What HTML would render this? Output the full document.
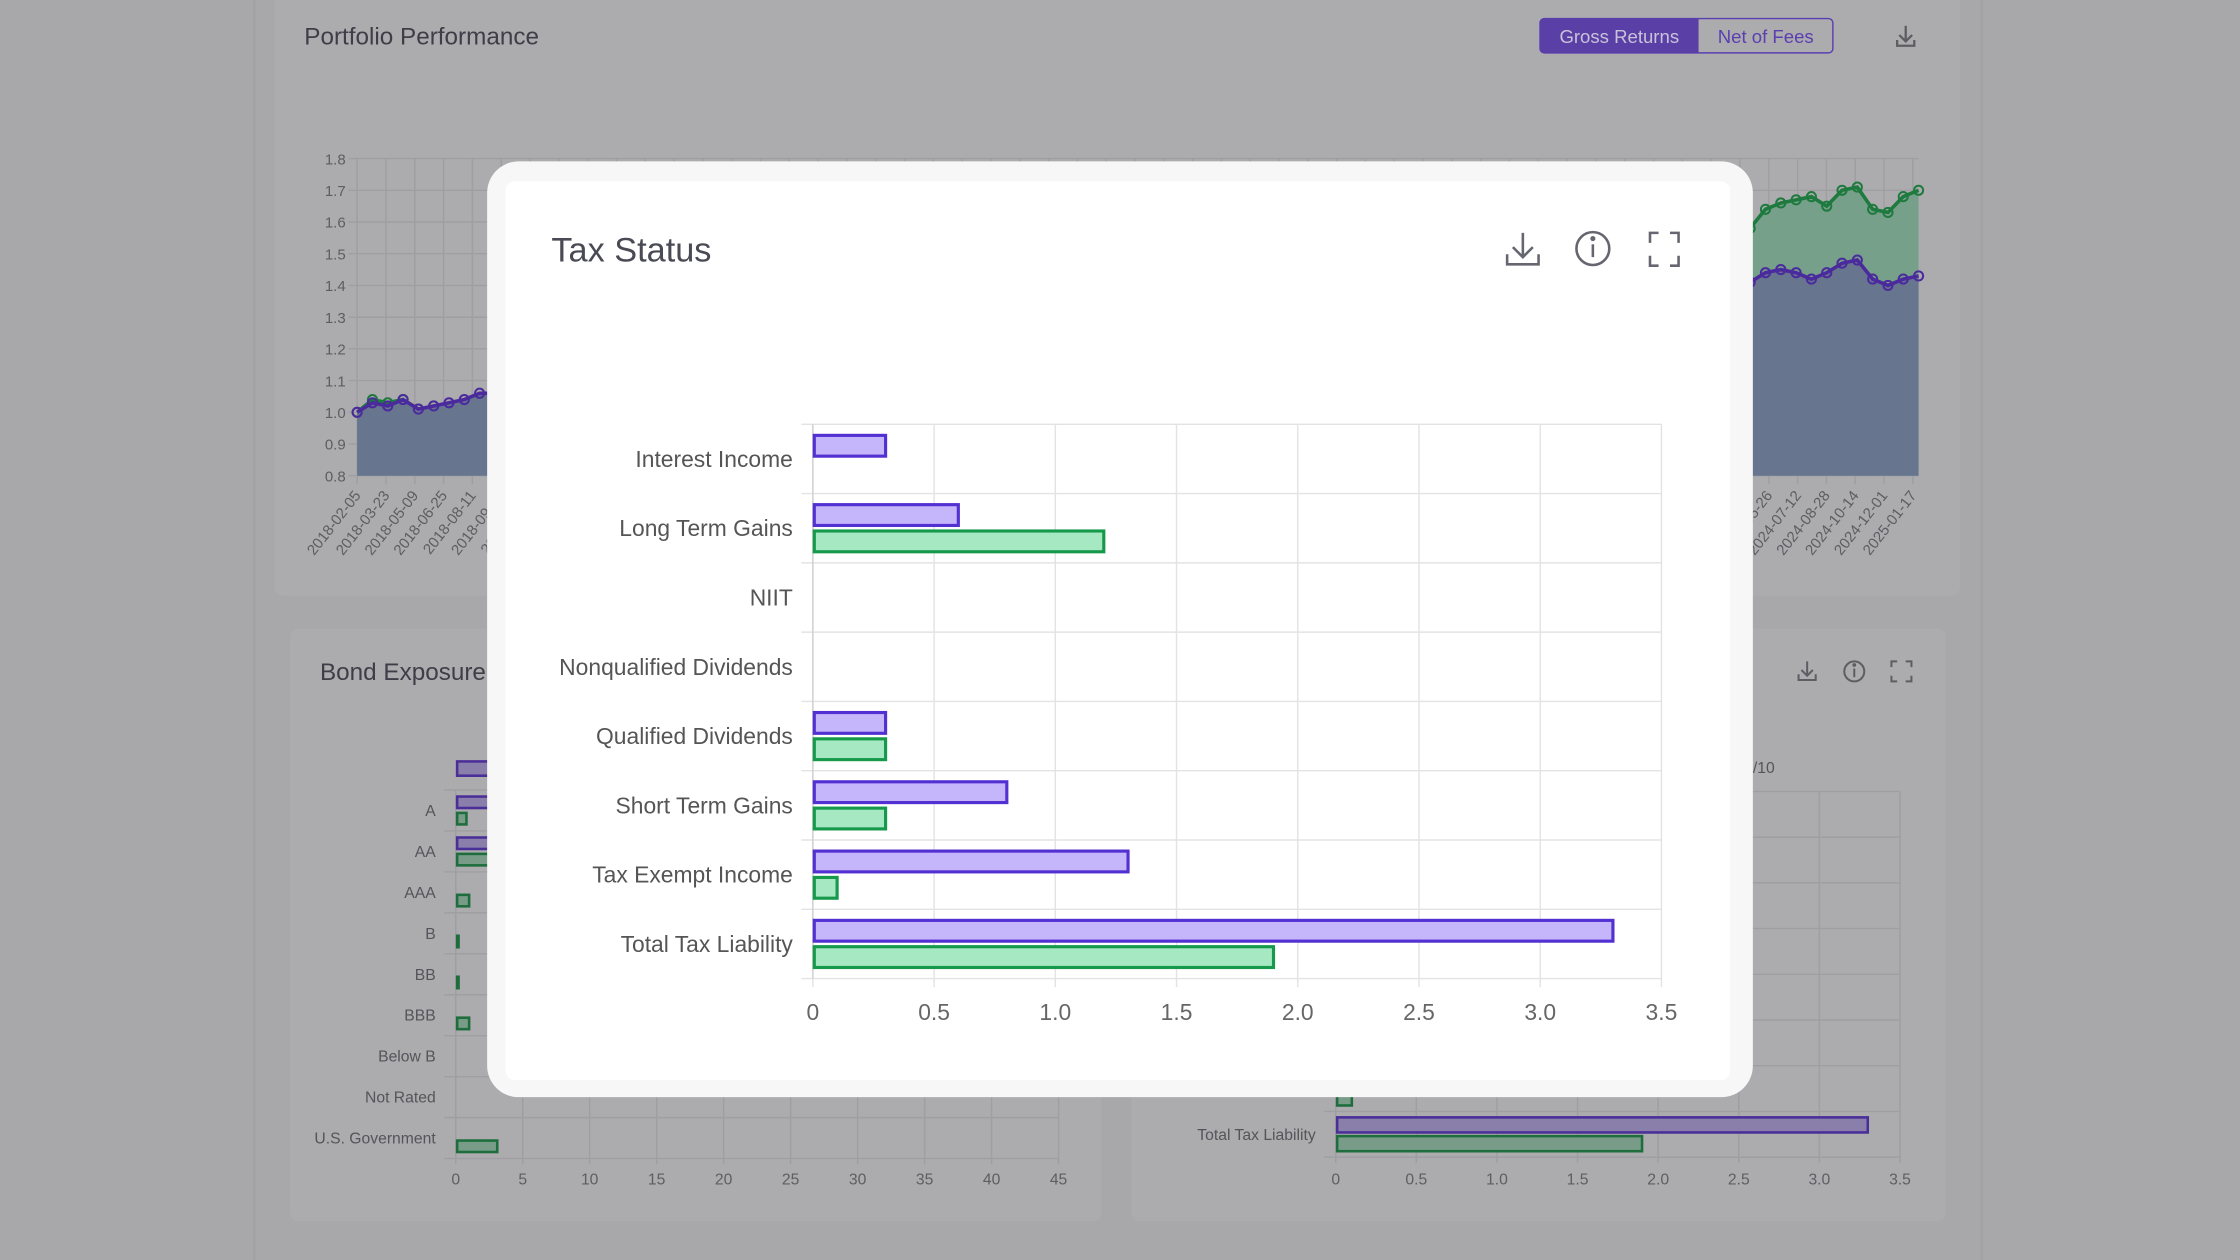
<!DOCTYPE html>
<html><head><meta charset="utf-8"><style>
html,body{margin:0;padding:0;width:2240px;height:1260px;overflow:hidden;background:#a8a7aa;}
svg{display:block;font-family:"Liberation Sans",sans-serif;}
</style></head><body>
<svg id="root" width="2240" height="1260" viewBox="0 0 1568 882" xmlns="http://www.w3.org/2000/svg">
<rect x="0" y="0" width="1568" height="882" fill="#a8a7aa"/>
<line x1="178" y1="0" x2="178" y2="882" stroke="#a3a2a5" stroke-width="2"/>
<line x1="1387" y1="0" x2="1387" y2="882" stroke="#a3a2a5" stroke-width="2"/>
<g>
<rect x="192" y="-10" width="1180" height="427" rx="6" fill="#acabae"/>
<text x="213" y="31" font-size="17" fill="#3f3e48">Portfolio Performance</text>
<rect x="1078" y="13" width="205" height="24" rx="3" fill="#acabae" stroke="#5a3fb0" stroke-width="1"/>
<path d="M1081,13 H1189 V37 H1081 a3,3 0 0 1 -3,-3 V16 a3,3 0 0 1 3,-3z" fill="#5a3fa6"/>
<text x="1133.5" y="30" font-size="13" fill="#c8c3d8" text-anchor="middle">Gross Returns</text>
<text x="1236" y="30" font-size="13" fill="#5a3fb0" text-anchor="middle">Net of Fees</text>
<g stroke="#5e5d63" stroke-width="1.6" fill="none"><path d="M1334,18 v11 M1329.5,24.5 l4.5,4.5 l4.5,-4.5 M1328,28 v4 h12 v-4"/></g>
<g id="perf"></g>
</g>
<g>
<rect x="203" y="440" width="568" height="415" rx="6" fill="#acabae"/>
<text x="224" y="476" font-size="17" fill="#3f3e48">Bond Exposure</text>
<g id="bond"></g>
</g>
<g>
<rect x="792" y="440" width="570" height="415" rx="6" fill="#acabae"/>
<text x="1227" y="541" font-size="11" fill="#55545a">/10</text>
<g stroke="#5e5d63" stroke-width="1.4" fill="none">
<path d="M1265,463 v10 M1261,469 l4,4 l4,-4 M1259,472 v4 h12 v-4"/>
<g><circle cx="1298" cy="470" r="7"/><path d="M1298,468 v6"/><circle cx="1298" cy="465.5" r="0.6"/></g>
<path d="M1324,467 v-4 h4 M1334,463 h4 v4 M1338,473 v4 h-4 M1328,477 h-4 v-4"/>
</g>
<g id="small"></g>
</g>
<g>
<rect x="341" y="113" width="886" height="655" rx="22" fill="#f7f7f7"/>
<rect x="354" y="127" width="857" height="629" rx="6" fill="#ffffff"/>
<text x="386" y="183" font-size="24" fill="#4a4a55">Tax Status</text>
<g stroke="#666670" stroke-width="1.8" fill="none">
<path d="M1066,163 v17 M1059,173 l7,7 l7,-7 M1055,178 v7 h22 v-7"/>
<g><circle cx="1115" cy="174" r="11.5"/><path d="M1115,171 v9"/><circle cx="1115" cy="167" r="0.9"/></g>
<path d="M1155,170 v-7 h6 M1169,163 h6 v7 M1175,179 v7 h-6 M1161,186 h-6 v-7"/>
</g>
<g id="main"></g>
</g>
</svg>
<script>
const taxCategories = ["Interest Income","Long Term Gains","NIIT","Nonqualified Dividends","Qualified Dividends","Short Term Gains","Tax Exempt Income","Total Tax Liability"];
const taxSeriesA = [0.3,0.6,0,0,0.3,0.8,1.3,3.3];
const taxSeriesB = [0,1.2,0,0,0.3,0.3,0.1,1.9];
const taxTicks = ["0","0.5","1.0","1.5","2.0","2.5","3.0","3.5"];
const taxTickValues = [0,0.5,1,1.5,2,2.5,3,3.5];
const bondCategories = ["A","AA","AAA","B","BB","BBB","Below B","Not Rated","U.S. Government"];
const bondSeriesA = [20,18,0,0,0,0,0,0,0];
const bondSeriesB = [0.8,12,1.0,0.1,0.2,1.0,0,0,3.1];
const bondTicks = [0,5,10,15,20,25,30,35,40,45];
const perfGross = [1.00,1.04,1.03,1.04,1.01,1.02,1.01,1.02,1.03,1.04,1.05,1.06,1.07,1.08,1.08,1.10,1.11,1.10,1.12,1.13,1.14,1.12,1.10,1.13,1.15,1.16,1.18,1.17,1.16,1.19,1.20,1.22,1.21,1.20,1.18,1.22,1.25,1.27,1.26,1.28,1.30,1.29,1.31,1.30,1.32,1.34,1.33,1.35,1.36,1.34,1.36,1.38,1.37,1.39,1.40,1.42,1.41,1.40,1.43,1.44,1.45,1.44,1.46,1.45,1.47,1.46,1.48,1.47,1.49,1.48,1.50,1.49,1.51,1.50,1.49,1.50,1.49,1.48,1.50,1.51,1.50,1.49,1.50,1.51,1.50,1.51,1.52,1.55,1.56,1.57,1.62,1.58,1.64,1.66,1.67,1.68,1.65,1.70,1.71,1.64,1.63,1.68,1.70];
const perfNet = [1.00,1.03,1.02,1.04,1.01,1.02,1.03,1.04,1.06,1.06,1.07,1.08,1.08,1.09,1.10,1.10,1.11,1.12,1.11,1.13,1.14,1.12,1.10,1.12,1.14,1.15,1.16,1.15,1.14,1.16,1.17,1.18,1.17,1.16,1.15,1.17,1.19,1.20,1.19,1.21,1.22,1.21,1.23,1.22,1.24,1.25,1.24,1.26,1.27,1.25,1.26,1.28,1.27,1.28,1.29,1.30,1.29,1.28,1.30,1.31,1.32,1.31,1.32,1.31,1.33,1.32,1.31,1.30,1.31,1.30,1.31,1.30,1.31,1.30,1.29,1.30,1.29,1.28,1.29,1.30,1.29,1.28,1.29,1.30,1.29,1.30,1.32,1.35,1.37,1.39,1.38,1.41,1.44,1.45,1.44,1.42,1.44,1.47,1.48,1.42,1.40,1.42,1.43];
const perfYTicks = ["0.8","0.9","1.0","1.1","1.2","1.3","1.4","1.5","1.6","1.7","1.8"];
const perfYValues = [0.8,0.9,1.0,1.1,1.2,1.3,1.4,1.5,1.6,1.7,1.8];
const perfDates = ["2018-02-05","2018-03-23","2018-05-09","2018-06-25","2018-08-11","2018-09-27","2018-11-13","2018-12-30","2019-02-15","2019-04-03","2019-05-20","2019-07-06","2019-08-22","2019-10-08","2019-11-24","2020-01-10","2020-02-26","2020-04-13","2020-05-30","2020-07-16","2020-09-01","2020-10-18","2020-12-04","2021-01-20","2021-03-08","2021-04-24","2021-06-10","2021-07-27","2021-09-12","2021-10-29","2021-12-15","2022-01-31","2022-03-19","2022-05-05","2022-06-21","2022-08-07","2022-09-23","2022-11-09","2022-12-26","2023-02-11","2023-03-30","2023-05-16","2023-07-02","2023-08-18","2023-10-04","2023-11-20","2024-01-06","2024-02-22","2024-04-09","2024-05-26","2024-07-12","2024-08-28","2024-10-14","2024-12-01","2025-01-17"];

const NS="http://www.w3.org/2000/svg";
function mk(parent,tag,attrs,txt){const e=document.createElementNS(NS,tag);for(const k in attrs)e.setAttribute(k,attrs[k]);if(txt!==undefined)e.textContent=txt;parent.appendChild(e);return e;}

function hbar(g,o){
  const x=v=>o.x0+v*(o.x1-o.x0)/o.max;
  const band=(o.y1-o.y0)/o.cats.length;
  o.tickVals.forEach((v,i)=>{
    const l=mk(g,"line",{x1:x(v),y1:o.y0,x2:x(v),y2:o.y1+(o.tickLen||0),stroke:o.grid,"stroke-width":1});
    
    
    const t=mk(g,"text",{x:x(v),y:o.y1+o.tickDy,"font-size":o.fs,fill:o.tc,"text-anchor":"middle"},o.tickLabels[i]);
    
    
  });
  for(let i=0;i<=o.cats.length;i++){
    const yy=o.y0+band*i;
    const l=mk(g,"line",{x1:o.x0-8,y1:yy,x2:o.x1,y2:yy,stroke:o.grid,"stroke-width":1});
    
    
  }
  const ax=mk(g,"line",{x1:o.x0,y1:o.y0,x2:o.x0,y2:o.y1,stroke:o.axis,"stroke-width":1});
  
  
  o.cats.forEach((c,i)=>{
    const top=o.y0+band*i;
    if(o.labelMin===undefined||top+band/2>o.labelMin){
      const t=mk(g,"text",{x:o.x0-14,y:top+band/2+o.fs*0.35,"font-size":o.fs,fill:o.lc,"text-anchor":"end"},c);
      
      
    }
    const bh=band*o.barFrac, gap=band*o.gapFrac;
    const yA=top+band/2-bh-gap/2, yB=top+band/2+gap/2;
    if(o.a[i]>0){
      const r=mk(g,"rect",{x:o.x0+1,y:yA,width:x(o.a[i])-o.x0-1,height:bh,fill:o.fa,stroke:o.sa,"stroke-width":o.sw});
      
      
    }
    if(o.b[i]>0){
      const r=mk(g,"rect",{x:o.x0+1,y:yB,width:Math.max(x(o.b[i])-o.x0-1,1),height:bh,fill:o.fb,stroke:o.sb,"stroke-width":o.sw});
      
      
    }
  });
}

hbar(document.getElementById("main"),{x0:569,x1:1163,y0:297,y1:685,max:3.5,cats:taxCategories,a:taxSeriesA,b:taxSeriesB,
 tickVals:taxTickValues,tickLabels:taxTicks,tickLen:6,tickDy:29,fs:16,tc:"#666",lc:"#555",grid:"#e3e3e3",axis:"#d0d0d0",
 barFrac:0.3,gapFrac:0.08,fa:"#c5b5fb",sa:"#5330d2",fb:"#a6e8c2",sb:"#16994a",sw:2.2});

hbar(document.getElementById("small"),{x0:935,x1:1330,y0:554,y1:810,max:3.5,cats:taxCategories,a:taxSeriesA,b:taxSeriesB,
 tickVals:taxTickValues,tickLabels:taxTicks,tickLen:4,tickDy:19,fs:11,tc:"#5e5d63",lc:"#55545a",grid:"#9f9ea2",axis:"#9f9ea2",labelMin:780,
 barFrac:0.33,gapFrac:0.08,fa:"#8a7eab",sa:"#4a2f99",fb:"#789c88",sb:"#1d6e3c",sw:1.8});

hbar(document.getElementById("bond"),{x0:319,x1:741,y0:553,y1:811,max:45,cats:bondCategories,a:bondSeriesA,b:bondSeriesB,
 tickVals:bondTicks,tickLabels:bondTicks.map(String),tickLen:4,tickDy:18,fs:11,tc:"#5e5d63",lc:"#55545a",grid:"#9f9ea2",axis:"#9f9ea2",
 barFrac:0.28,gapFrac:0.12,fa:"#8a7eab",sa:"#4a2f99",fb:"#789c88",sb:"#1d6e3c",sw:1.8});
(function(){const g=document.getElementById("bond");
 const r=mk(g,"rect",{x:320,y:533,width:28,height:10,fill:"#8a7eab",stroke:"#4a2f99","stroke-width":1.8});
 
 })();

(function(){
  const g=document.getElementById("perf");
  const X0=250,X1=1343,Y0=111,Y1=333,ymin=0.8,ymax=1.8;
  const y=v=>Y1-(v-ymin)*(Y1-Y0)/(ymax-ymin);
  const xi=(i,n)=>X0+i*(X1-X0)/(n-1);
  perfYValues.forEach((v,i)=>{
    const l=mk(g,"line",{x1:X0-6,y1:y(v),x2:X1,y2:y(v),stroke:"#9f9ea2","stroke-width":1});
    
    
    const t=mk(g,"text",{x:X0-8,y:y(v)+4,"font-size":10.5,fill:"#5e5d63","text-anchor":"end"},perfYTicks[i]);
    
    
  });
  const step=(X1-X0-4)/(perfDates.length-1);
  perfDates.forEach((d,i)=>{
    const xx=X0+i*step;
    const l=mk(g,"line",{x1:xx,y1:Y0,x2:xx,y2:Y1+6,stroke:"#9f9ea2","stroke-width":1});
    
    
    const t=mk(g,"text",{x:xx+3,y:Y1+14,"font-size":10.5,fill:"#5e5d63","text-anchor":"end",transform:`rotate(-52 ${xx+3} ${Y1+14})`},d);
    
    
  });
  function series(vals,fill,stroke,name){
    const n=vals.length;
    let d="";vals.forEach((v,i)=>{d+=(i?"L":"M")+xi(i,n).toFixed(1)+","+y(v).toFixed(1);});
    const a=mk(g,"path",{d:d+`L${X1},${Y1}L${X0},${Y1}Z`,fill:fill});
    
    
    const l=mk(g,"path",{d:d,fill:"none",stroke:stroke,"stroke-width":2.5});
    
    
    vals.forEach((v,i)=>{const c=mk(g,"circle",{cx:xi(i,n),cy:y(v),r:3.2,fill:"none",stroke:stroke,"stroke-width":1.4});
      
      });
  }
  series(perfGross,"#76a08a","#1e7a3e","gross-returns");
  series(perfNet,"#68758f","#4a2a9c","net-returns");
})();
</script>
</body></html>
